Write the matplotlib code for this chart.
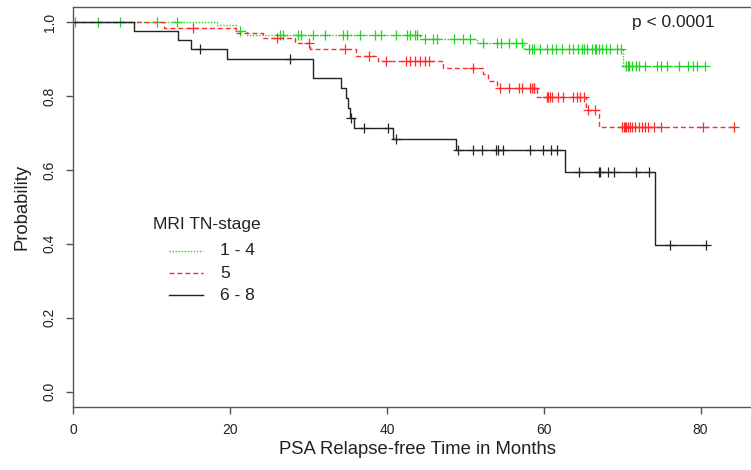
import numpy as np
import matplotlib
matplotlib.use('Agg')
import matplotlib.pyplot as plt
from matplotlib.lines import Line2D

plt.rcParams['font.family'] = ['Liberation Sans', 'DejaVu Sans']

W, H = 751, 470

groups = ['1 - 4', '5', '6 - 8']
legend_title = 'MRI TN-stage'
p_text = 'p < 0.0001'

# ---- group "1 - 4" (green, dotted) ----
g1_event_t = [18.3, 20.8, 22.1, 44.2, 51.5, 57.5, 70.1]
g1_surv = [0.993, 0.976, 0.966, 0.955, 0.944, 0.927, 0.882]
g1_cens = [0.2, 3.2, 6.0, 10.7, 13.2, 21.2, 26.4, 26.7, 28.7, 29.1, 30.6, 32.1,
           34.4, 34.9, 36.6, 38.5, 39.2, 41.1, 42.5, 42.9, 43.6, 43.8,
           44.8, 45.9, 46.4, 48.5, 49.7, 50.6,
           52.3, 54.0, 54.6, 55.5, 56.4, 57.2,
           58.1, 58.5, 58.8, 59.5, 60.4, 61.1, 61.6, 62.3, 63.2, 63.7, 64.4,
           64.9, 65.1, 65.5, 66.1, 66.5, 66.7, 67.0, 67.4, 67.9, 68.4, 69.3, 69.8,
           70.5, 70.7, 70.9, 71.2, 71.7, 72.2, 72.9, 74.4, 74.9, 75.7, 77.2,
           78.4, 79.0, 79.5, 80.5]

# ---- group "5" (red, dashed) ----
g2_event_t = [11.6, 20.8, 24.2, 28.3, 30.2, 36.1, 38.9, 47.2, 52.2, 52.9,
              54.0, 59.1, 65.4, 67.0]
g2_surv = [0.984, 0.970, 0.957, 0.943, 0.926, 0.909, 0.895, 0.876, 0.859,
           0.840, 0.821, 0.796, 0.762, 0.717]
g2_cens = [15.3, 26.0, 30.0, 34.7, 37.7, 39.9, 42.4, 42.9, 43.6, 44.2, 44.9,
           45.3, 51.0, 54.4, 55.6, 56.8, 57.2, 58.2, 58.5, 58.7, 58.8, 60.4,
           60.6, 60.8, 61.1, 61.8, 62.5, 63.7, 64.2, 64.6, 65.1, 65.7, 66.5,
           70.0, 70.2, 70.3, 70.5, 70.8, 71.0, 71.3, 71.6, 72.1, 72.5, 72.9,
           73.3, 74.0, 75.0, 80.3, 84.3]

# ---- group "6 - 8" (black, solid) ----
g3_event_t = [7.7, 13.3, 15.0, 19.6, 30.6, 34.1, 34.8, 35.0, 35.3, 35.8,
              40.8, 48.8, 62.7, 74.2]
g3_surv = [0.976, 0.951, 0.926, 0.899, 0.848, 0.821, 0.795, 0.768, 0.741,
           0.713, 0.685, 0.654, 0.595, 0.396]
g3_cens = [16.1, 27.6, 35.4, 37.1, 40.1, 41.1, 49.1, 51.0, 52.1, 53.9, 54.1,
           54.8, 58.3, 59.9, 60.9, 61.7, 64.5, 67.0, 67.2, 68.2, 69.0, 71.8,
           73.4, 76.1, 80.7]

x_ticks = [0, 20, 40, 60, 80]
y_ticks = [0.0, 0.2, 0.4, 0.6, 0.8, 1.0]
y_tick_labels = ['0.0', '0.2', '0.4', '0.6', '0.8', '1.0']
x_label = 'PSA Relapse-free Time in Months'
y_label = 'Probability'

colors = ['#22d422', '#ff2a2a', '#222222']
styles = [(0, (1, 1.2)), (0, (3.5, 2.2)), '-']

fig = plt.figure(figsize=(W / 100, H / 100), dpi=100)
ax = fig.add_axes([73.3 / W, 1 - 406.5 / H, (761 - 73.3) / W, (406.5 - 7.3) / H])
ax.set_xlim(0, 87.7)
ax.set_ylim(-0.04, 1.04)

series = [(g1_event_t, g1_surv, g1_cens),
          (g2_event_t, g2_surv, g2_cens),
          (g3_event_t, g3_surv, g3_cens)]

for (et, sv, cs), col, ls in zip(series, colors, styles):
    et = np.asarray(et); sv = np.asarray(sv); cs = np.asarray(cs)
    end = max(et.max(), cs.max())
    t = np.r_[0.0, et, end]
    s = np.r_[1.0, sv, sv[-1]]
    ax.step(t, s, where='post', color=col, linestyle=ls, lw=1.0)
    levels = np.r_[1.0, sv][np.searchsorted(et, cs, side='right')]
    ax.plot(cs, levels, linestyle='none', marker='+', color=col,
            markersize=7, markeredgewidth=0.9)

for sp in ax.spines.values():
    sp.set_color('#555555')
    sp.set_linewidth(1.0)

ax.set_xticks(x_ticks)
ax.set_xticklabels([str(v) for v in x_ticks])
ax.set_yticks(y_ticks)
ax.set_yticklabels(y_tick_labels, rotation=90, va='center')
ax.tick_params(axis='both', length=5, width=1.0, color='#555555',
               labelsize=10, pad=7, labelcolor='#222222')
ax.set_xlabel(x_label, fontsize=13.3, labelpad=3, color='#222222')
ax.set_ylabel(y_label, fontsize=13.3, labelpad=9, color='#222222')

ax.text(76.5, 0.998, p_text, ha='center', va='center', fontsize=12.5,
        color='#222222')

def fx(px):
    return px / W

def fy(py):
    return 1 - py / H

fig.text(fx(153), fy(224), legend_title, ha='left', va='center',
         fontsize=12.5, color='#222222')
rows_y = [250.7, 273.3, 295.0]
for lab, col, ls, ry in zip(groups, colors, styles, rows_y):
    fig.add_artist(Line2D([fx(169), fx(203)], [fy(ry), fy(ry)],
                          color=col, linestyle=ls, lw=1.0,
                          transform=fig.transFigure))
    fig.text(fx(220), fy(ry), lab, ha='left', va='center', fontsize=12.5,
             color='#222222')

fig.savefig('out.png', dpi=100)
